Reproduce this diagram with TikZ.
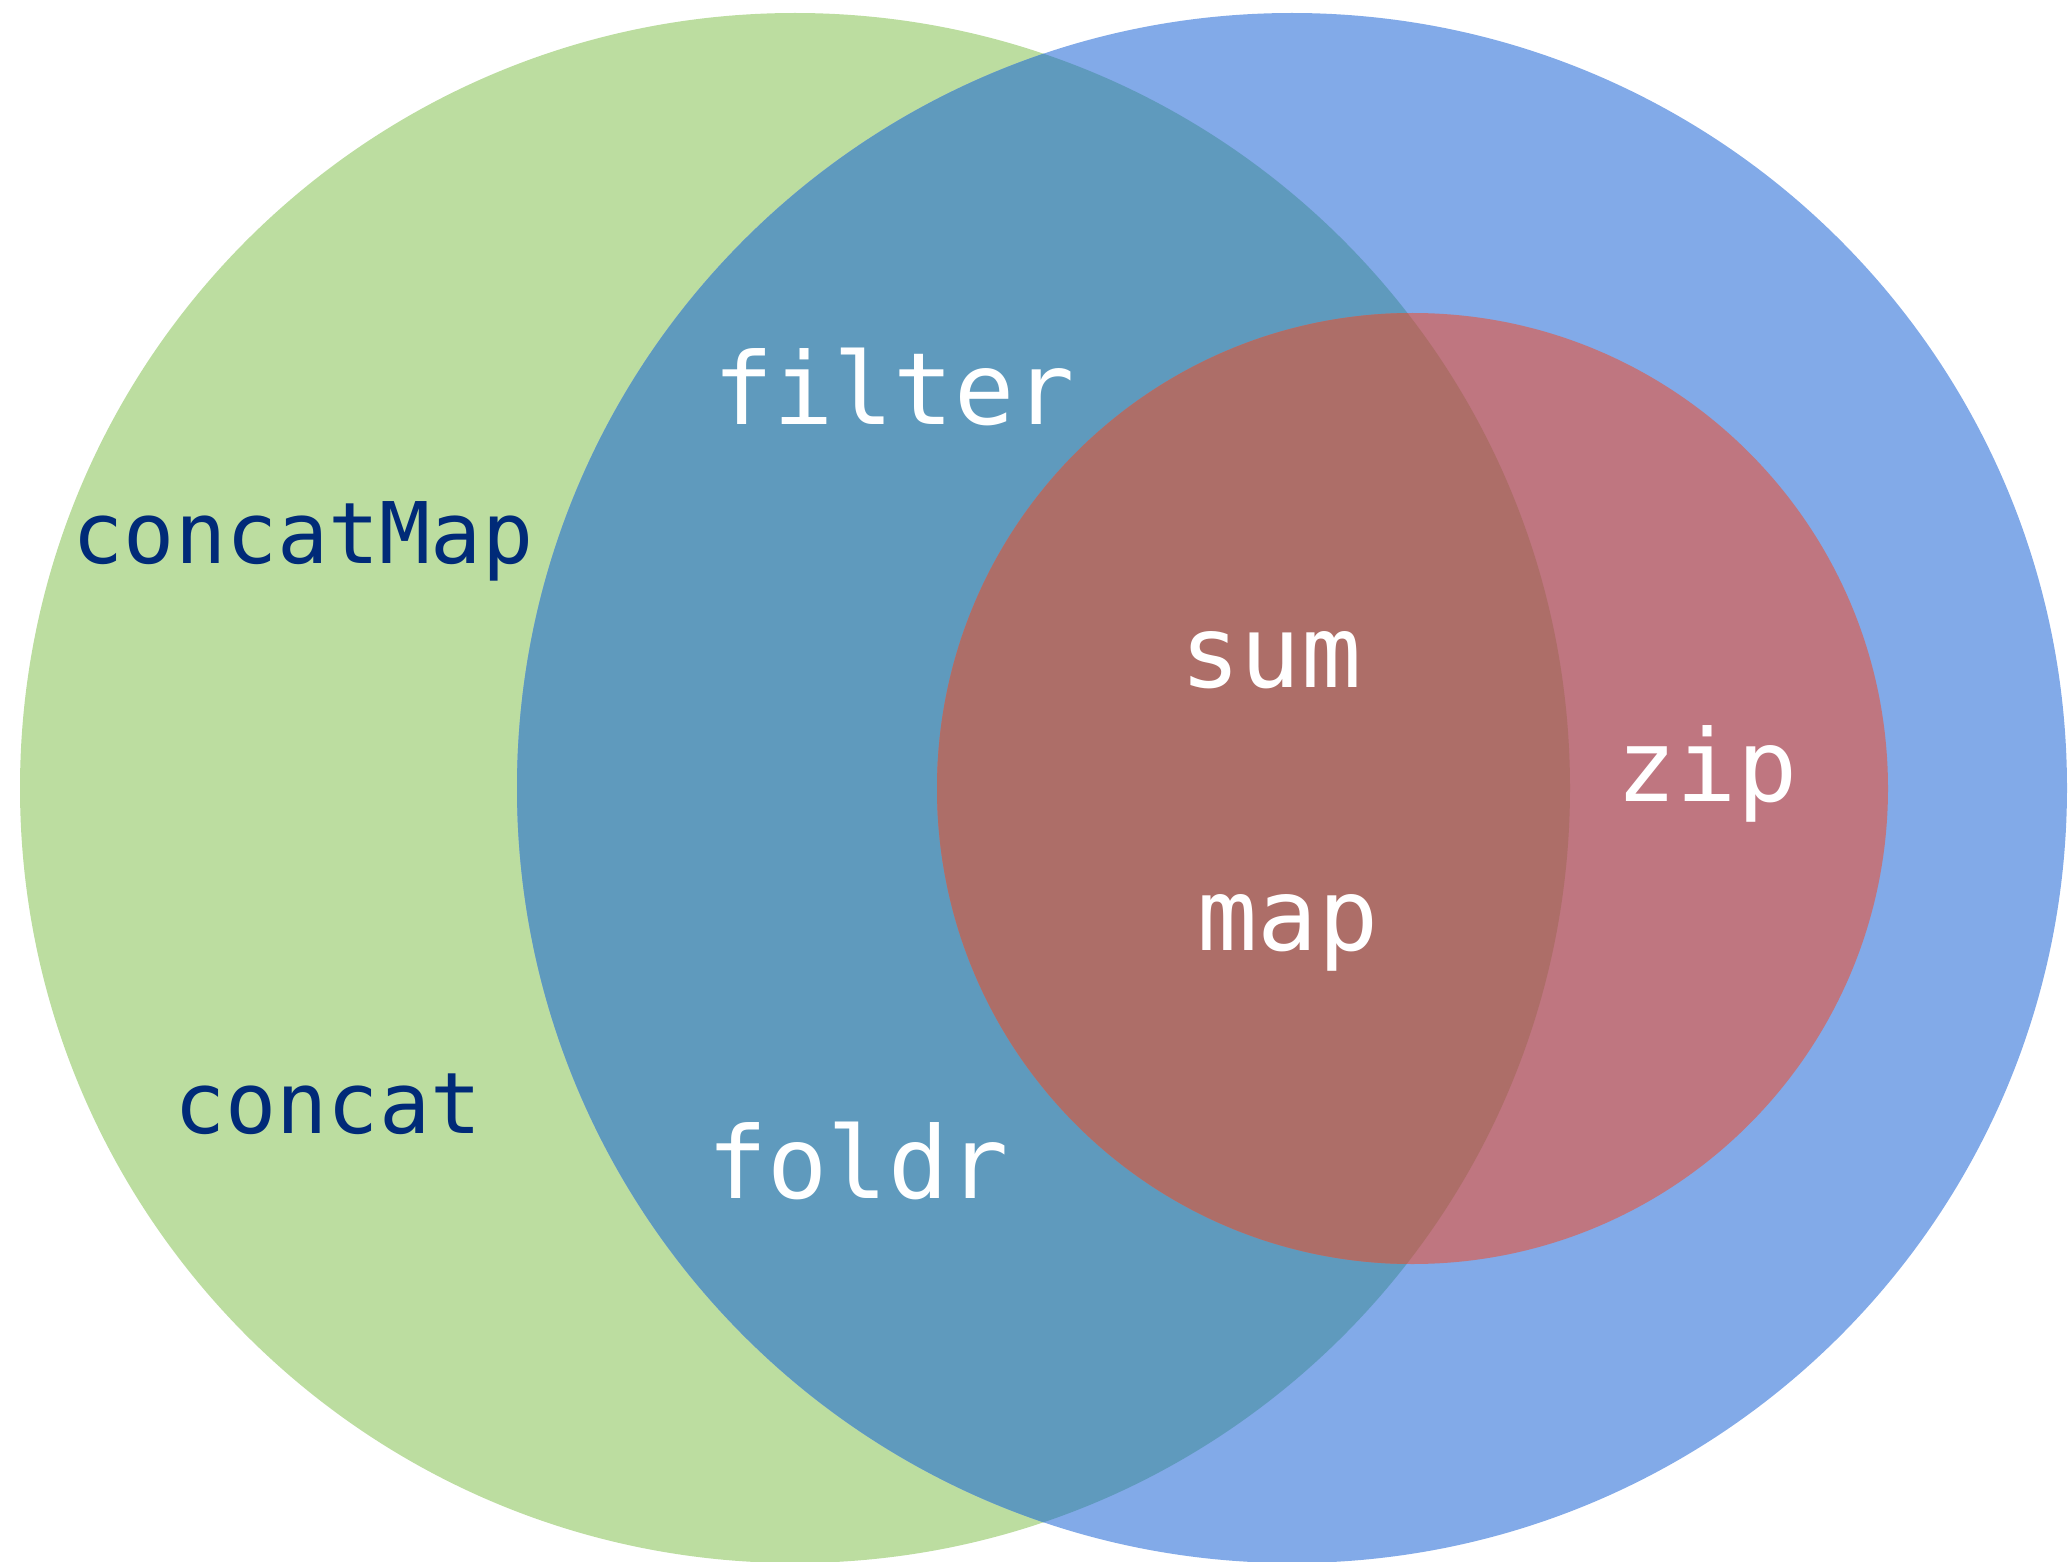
\documentclass[tikz,border=0pt]{standalone}
\usepackage{fontspec}
\newfontfamily\vmono{DejaVu Sans Mono}
\definecolor{cgreen}{HTML}{BCDDA0}
\definecolor{cblue}{HTML}{82AAE8}
\definecolor{cgb}{HTML}{5F9ABD}
\definecolor{credb}{HTML}{BF7680}
\definecolor{credg}{HTML}{AD6E68}
\definecolor{cnavy}{HTML}{002A78}
\tikzset{
  wlabel/.style={anchor=base, text=white, inner sep=0pt, font=\vmono\fontsize{50}{60}\selectfont},
  nlabel/.style={anchor=base, text=cnavy, inner sep=0pt, font=\vmono\fontsize{42.5}{51}\selectfont},
}
\begin{document}
\begin{tikzpicture}[x=0.5pt,y=-0.5pt]
\useasboundingbox (0,0) rectangle (2069,1562);
\coordinate (G) at (795,788);
\coordinate (B) at (1292,788);
\coordinate (R) at (1412.5,788.5);
\fill[cgreen] (G) circle[radius=775];
\fill[cblue] (B) circle[radius=775];
\begin{scope}
  \clip (G) circle[radius=775];
  \fill[cgb] (B) circle[radius=775];
\end{scope}
\fill[credb] (R) circle[radius=475.5];
\begin{scope}
  \clip (G) circle[radius=775];
  \fill[credg] (R) circle[radius=475.5];
\end{scope}
\node[nlabel] (concatMap) at (303,563) {concatMap};
\node[nlabel] (concat) at (328,1133) {concat};
\node[wlabel] (filter) at (894,424) {filter};
\node[wlabel] (foldr) at (858,1198) {foldr};
\node[wlabel] (sum) at (1271,687) {sum};
\node[wlabel] (zip) at (1707,801) {zip};
\node[wlabel] (map) at (1288,950) {map};
\end{tikzpicture}
\end{document}
